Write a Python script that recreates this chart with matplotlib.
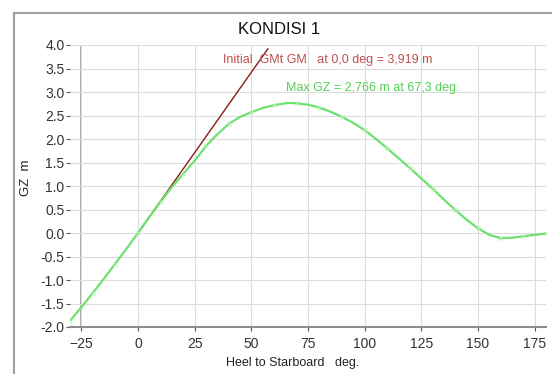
import numpy as np
import matplotlib.pyplot as plt
from matplotlib.lines import Line2D

plt.rcParams['font.family'] = ['Liberation Sans Narrow', 'Liberation Sans', 'DejaVu Sans']

# GZ curve (heel deg, GZ m)
heel = [-30, -25, -20, -15, -10, -5, 0, 5, 10, 15, 20, 25, 30, 35, 40, 45, 50,
        55, 60, 65, 67.3, 70, 75, 80, 85, 90, 95, 100, 105, 110, 115, 120, 125,
        130, 135, 140, 145, 150, 155, 160, 165, 170, 175, 180]
gz = [-1.87, -1.58, -1.28, -0.97, -0.65, -0.33, 0.0, 0.34, 0.67, 0.98, 1.26,
      1.54, 1.85, 2.10, 2.32, 2.47, 2.57, 2.66, 2.72, 2.76, 2.766, 2.76, 2.73,
      2.67, 2.58, 2.47, 2.34, 2.19, 2.00, 1.80, 1.59, 1.38, 1.16, 0.94, 0.71,
      0.49, 0.28, 0.10, -0.04, -0.11, -0.10, -0.07, -0.04, -0.01]

# initial GM line: GM = 3.919 m reached at 1 rad (57.3 deg)
gm_heel = [0, 57.3]
gm_val = [0, 3.919]

x_ticks = [-25, 0, 25, 50, 75, 100, 125, 150, 175]
y_ticks = [-2.0, -1.5, -1.0, -0.5, 0.0, 0.5, 1.0, 1.5, 2.0, 2.5, 3.0, 3.5, 4.0]

fig = plt.figure(figsize=(5.52, 3.74), dpi=100)
ax = fig.add_axes([70/552, 1 - 327/374, 476/552, 282/374])

# outer frame (only top and left edges visible)
fig.add_artist(Line2D([14/552, 14/552], [0, 1 - 13/374], color='#a0a0a0', lw=1.5,
                      transform=fig.transFigure))
fig.add_artist(Line2D([14/552, 1], [1 - 13/374, 1 - 13/374], color='#a0a0a0', lw=1.5,
                      transform=fig.transFigure))

ax.set_xlim(-30, 180)
ax.set_ylim(-2.0, 4.0)
ax.set_xticks(x_ticks)
ax.set_yticks(y_ticks)
ax.set_yticklabels([f'{v:.1f}' for v in y_ticks])
ax.grid(True, color='#dcdcdc', lw=0.8)
ax.axvline(-25, color='#a8a8a8', lw=1.4, zorder=1)

for s in ['top', 'right', 'left']:
    ax.spines[s].set_visible(False)
ax.spines['bottom'].set_color('#8c8c8c')
ax.spines['bottom'].set_linewidth(1.5)
ax.tick_params(axis='both', labelsize=10, colors='#555555', labelcolor='#333333',
               length=3, width=0.8, pad=1)
ax.tick_params(axis='x', pad=4)

ax.plot(gm_heel, gm_val, color='#8b1a1a', lw=1.0, zorder=3)
ax.plot(heel, gz, color='#6ee06e', lw=1.6, zorder=4)
mk = [(h, g) for h, g in zip(heel, gz) if h % 10 == 0]
ax.plot([m[0] for m in mk], [m[1] for m in mk], ls='none', marker='x',
        ms=3, mew=0.7, color='#b0f0b0', zorder=5)

ax.text(37.5, 3.68, 'Initial  GMt GM   at 0,0 deg = 3,919 m', color='#c0504d',
        fontsize=9, va='center', ha='left')
ax.text(65.5, 3.09, 'Max GZ = 2,766 m at 67,3 deg.', color='#55d055',
        fontsize=9, va='center', ha='left')

fig.text(279/552, 1 - 30/374, 'KONDISI 1', fontsize=12, ha='center', va='center',
         color='#111111')
fig.text(293/552, 1 - 363/374, 'Heel to Starboard   deg.', fontsize=9,
         ha='center', va='center', color='#222222')
fig.text(26/552, 1 - 178/374, 'GZ  m', fontsize=9.5, rotation=90, ha='center',
         va='center', color='#222222')

fig.savefig('out.png', dpi=100)
